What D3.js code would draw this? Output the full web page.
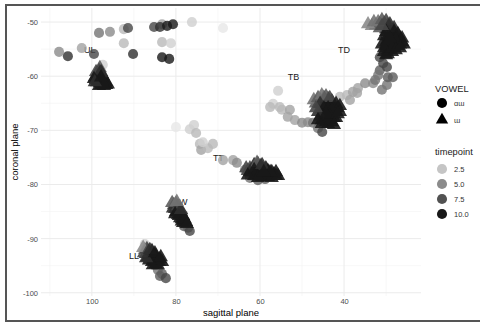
<!DOCTYPE html>
<html><head><meta charset="utf-8">
<script src="https://cdn.jsdelivr.net/npm/d3@7"></script>
<style>body{margin:0;background:#fff}svg{display:block}</style>
</head><body><svg id="c" width="480" height="323"></svg>
<script>
// vowel "ɑɯ" (circles)
const awSag=[107.8,105.7,102.4,99.5,98.3,95.7,92.4,91.4,92.4,90.2,85.2,83.3,83.8,82.1,80.7,83.3,81.2,83.3,81.6,76.2,68.8,97.4,
 78.3,77.8,78.1,77.1,76.7,
 87.4,85.0,84.3,83.8,83.3,82.4,
 80.0,76.7,75.7,75.2,74.3,74.0,72.4,71.2,73.6,68.8,66.4,65.5,63.6,62.4,60.5,58.8,
 55.7,56.9,57.6,54.8,55.3,52.9,53.4,51.7,50.0,48.6,47.4,46.2,45.2,
 41.0,39.3,37.9,36.7,35.0,38.6,36.9,33.1,32.6,31.0,29.8,29.6,31.5,30.7,31.5,29.8,28.4,31.9];
const awCor=[-55.5,-56.3,-54.8,-55.9,-52.0,-51.8,-51.3,-51.1,-53.9,-55.9,-50.9,-50.4,-50.9,-50.7,-50.4,-53.7,-53.9,-56.5,-56.8,-50.0,-51.1,-57.9,
 -85.6,-86.9,-87.7,-88.0,-88.6,
 -91.0,-94.9,-95.8,-96.9,-96.5,-97.3,
 -69.4,-69.8,-69.0,-70.5,-72.5,-73.6,-73.3,-72.5,-72.2,-75.5,-75.5,-76.0,-77.3,-78.8,-79.2,-79.0,
 -62.7,-65.1,-65.7,-66.2,-65.7,-66.2,-67.5,-68.1,-68.6,-68.5,-68.6,-69.6,-70.3,
 -63.8,-63.5,-62.9,-62.2,-61.3,-64.4,-63.1,-61.3,-60.7,-62.5,-61.6,-60.2,-58.9,-57.6,-56.5,-58.3,-60.2,-59.8];
const awTime=[5,9,4,8,6,5,3,8,3,9,8,4,9,10,10,3,2,10,10,2,1,2,
 5,6,7,7,8,
 2,5,6,7,7,8,
 1,2,2,3,3,4,3,3,2,4,4,5,5,6,7,7,
 2,2,3,3,3,4,4,4,5,5,6,6,8,
 3,3,4,4,5,4,4,5,6,6,6,7,7,8,8,8,7,6];

// vowel "ɯ" (triangles)
const uSag=[98.1,98.3,97.8,98.8,98.1,97.4,99.3,98.6,97.8,97.1,99.0,98.3,97.6,96.6,98.1,97.4,96.9,97.8,98.6,97.6,
 99.0,98.1,99.5,98.8,98.1,97.4,96.6,96.2,98.3,97.1,99.3,97.8,
 80.5,80.0,80.7,79.8,79.3,80.0,78.8,78.3,79.0,78.1,77.6,78.3,79.5,80.2,78.6,
 80.9,79.5,80.2,79.3,78.6,77.9,77.4,78.8,79.8,
 87.4,86.9,86.4,87.1,85.9,85.5,86.2,85.0,84.5,85.2,84.0,85.7,86.7,84.8,86.2,87.6,
 87.8,86.7,85.7,84.8,83.8,83.3,84.3,85.5,86.4,87.1,86.2,85.0,83.6,
 62.4,61.4,60.5,61.0,60.0,59.1,58.1,57.2,59.5,58.6,57.6,56.7,60.5,61.9,62.9,56.2,59.1,60.7,59.8,
 63.3,62.4,61.4,61.0,59.5,58.1,57.2,56.2,55.7,58.6,59.5,57.6,61.4,62.9,60.5,59.1,
 46.7,45.7,44.8,43.8,42.9,44.3,43.4,42.4,45.3,46.2,44.8,43.8,42.9,41.9,41.5,44.3,43.4,45.3,43.8,42.4,45.7,
 47.2,46.2,45.3,44.3,43.4,41.9,41.0,41.0,41.9,42.9,44.3,45.3,46.2,45.7,44.8,43.8,42.9,46.7,43.4,44.3,41.5,42.4,
 33.4,32.4,31.5,30.5,29.6,30.0,29.1,28.6,27.7,26.7,26.2,29.6,28.6,27.7,30.0,29.1,28.1,29.6,30.5,28.6,30.0,27.2,31.5,28.1,
 34.3,32.9,31.9,31.0,30.0,29.1,28.1,27.2,26.2,25.8,26.7,27.7,28.6,30.0,30.5,29.6,28.6,31.0,29.6,30.5,29.1,27.7,30.0,31.0,26.7];
const uCor=[-58.5,-59.0,-59.2,-59.6,-59.8,-60.0,-60.2,-60.3,-60.5,-60.7,-60.7,-60.9,-61.1,-61.1,-61.3,-61.5,-61.5,-61.6,-60.0,-59.6,
 -59.2,-59.4,-60.5,-61.1,-60.7,-60.9,-61.6,-61.5,-61.8,-61.8,-61.1,-60.2,
 -83.8,-83.6,-84.4,-84.4,-84.9,-85.1,-85.5,-85.8,-86.2,-86.6,-86.9,-87.1,-85.6,-84.5,-86.4,
 -83.4,-84.0,-85.5,-85.8,-86.8,-86.4,-87.3,-84.7,-83.2,
 -92.1,-91.9,-92.5,-92.8,-92.8,-93.2,-93.6,-93.6,-94.0,-94.1,-94.3,-94.3,-93.4,-94.7,-93.0,-92.7,
 -91.7,-92.3,-92.3,-93.2,-93.8,-94.3,-94.9,-94.9,-94.0,-93.6,-92.1,-92.7,-93.4,
 -77.0,-76.4,-76.2,-77.0,-77.2,-77.3,-77.5,-77.7,-77.9,-78.1,-78.3,-78.1,-77.7,-77.7,-77.5,-78.4,-78.4,-76.0,-76.6,
 -77.0,-77.7,-77.3,-78.3,-78.6,-78.6,-78.8,-77.7,-78.4,-77.0,-76.4,-77.7,-78.4,-78.3,-78.8,-77.7,
 -65.0,-64.4,-64.0,-64.2,-64.6,-65.1,-65.5,-65.9,-65.9,-66.6,-66.8,-66.6,-67.0,-66.6,-65.9,-67.7,-68.1,-68.1,-68.8,-67.7,-67.4,
 -64.4,-64.0,-63.5,-63.7,-64.0,-65.1,-65.5,-66.6,-67.7,-68.5,-68.5,-68.8,-68.1,-65.1,-65.9,-65.9,-66.3,-65.9,-67.4,-67.0,-67.0,-69.0,
 -50.7,-50.6,-50.4,-50.2,-50.6,-51.3,-51.5,-52.2,-52.6,-53.0,-53.7,-52.6,-53.3,-54.1,-53.7,-54.4,-54.8,-55.2,-54.8,-55.5,-56.1,-54.4,-51.1,-51.1,
 -50.4,-50.0,-50.0,-49.6,-49.8,-50.4,-51.8,-52.2,-53.0,-54.1,-54.1,-53.3,-54.1,-54.4,-55.5,-55.9,-54.8,-54.1,-53.3,-52.6,-53.0,-55.2,-51.8,-50.7,-54.8];
const uTime=[7,8,9,9,10,10,8,9,10,10,9,10,10,10,10,10,10,10,9,9,
 8,9,10,10,10,10,10,10,10,10,9,10,
 7,8,9,9,10,10,10,10,10,10,10,10,9,9,10,
 7,8,10,10,10,10,10,9,6,
 5,8,9,9,10,10,10,10,10,10,10,10,10,10,10,8,
 5,8,10,10,10,10,10,10,10,9,9,10,10,
 8,9,9,10,10,10,10,10,10,10,10,10,10,9,8,10,10,7,9,
 8,9,10,10,10,10,10,10,10,10,9,10,10,10,10,10,
 7,8,9,9,10,10,10,10,9,9,10,10,10,10,10,10,10,10,10,10,9,
 6,7,6,7,8,10,10,10,10,10,10,10,10,9,10,10,10,8,10,10,10,10,
 5,6,7,8,8,9,9,10,10,10,10,10,10,10,10,10,10,10,10,10,10,10,7,9,
 5,6,6,7,8,9,10,10,10,10,10,10,10,10,10,10,10,10,10,10,10,10,10,8,10];

const labelText=["UL","LL","JW","TT","TB","TD"];
const labelSag=[100.5,90.0,78.8,69.9,52.0,40.0];
const labelCor=[-55.2,-93.2,-83.2,-75.1,-60.2,-55.2];

const xTicks=[100,80,60,40];
const yTicks=[-50,-60,-70,-80,-90,-100];
const xMinor=[110,90,70,50,30];
const yMinor=[-55,-65,-75,-85,-95];
const vowelNames=["ɑɯ","ɯ"];
const timeBreaks=[2.5,5,7.5,10];

const FONT='"Liberation Sans", Arial, sans-serif';
const svg=d3.select("#c");
const L=41,R=421,T=8,B=296;
const x=d3.scaleLinear().domain([112.1,21.7]).range([L,R]);
const y=d3.scaleLinear().domain([-100.6,-47.4]).range([B,T]);
const color=d3.scaleLinear().domain([1,10.5]).range(["#e7e7e7","#0d0d0d"]);
const sym={ "ɑɯ":d3.symbol().type(d3.symbolCircle).size(80)(),
            "ɯ":d3.symbol().type(d3.symbolTriangle).size(88)() };

svg.append("rect").attr("x",0).attr("y",0).attr("width",480).attr("height",323).attr("fill","#fff");

// grid
const g=svg.append("g");
g.selectAll(".vmin").data(xMinor).join("line").attr("x1",d=>x(d)).attr("x2",d=>x(d)).attr("y1",T).attr("y2",B).attr("stroke","#f2f2f2").attr("stroke-width",0.6);
g.selectAll(".hmin").data(yMinor).join("line").attr("y1",d=>y(d)).attr("y2",d=>y(d)).attr("x1",L).attr("x2",R).attr("stroke","#f2f2f2").attr("stroke-width",0.6);
g.selectAll(".vmaj").data(xTicks).join("line").attr("x1",d=>x(d)).attr("x2",d=>x(d)).attr("y1",T).attr("y2",B).attr("stroke","#ebebeb").attr("stroke-width",1);
g.selectAll(".hmaj").data(yTicks).join("line").attr("y1",d=>y(d)).attr("y2",d=>y(d)).attr("x1",L).attr("x2",R).attr("stroke","#ebebeb").attr("stroke-width",1);

// axes
const xa=svg.append("g").attr("transform",`translate(0,${B})`).call(d3.axisBottom(x).tickValues(xTicks).tickSize(0).tickPadding(3).tickFormat(d3.format("d")));
const ya=svg.append("g").attr("transform",`translate(${L},0)`).call(d3.axisLeft(y).tickValues(yTicks).tickSize(0).tickPadding(3).tickFormat(d=>String(d)));
[xa,ya].forEach(a=>{a.select(".domain").remove();a.selectAll("text").attr("fill","#4d4d4d").style("font-family",FONT).style("font-size","7.5px");});

svg.append("text").attr("x",(L+R)/2).attr("y",316).attr("text-anchor","middle").style("font-family",FONT).style("font-size","9.5px").attr("fill","#000").text("sagittal plane");
svg.append("text").attr("transform",`translate(18,${(T+B)/2}) rotate(-90)`).attr("text-anchor","middle").style("font-family",FONT).style("font-size","9.5px").attr("fill","#000").text("coronal plane");

// annotation labels (under points)
svg.append("g").selectAll("text").data(labelText).join("text")
 .attr("x",(d,i)=>x(labelSag[i])).attr("y",(d,i)=>y(labelCor[i])).attr("dy","0.35em")
 .attr("text-anchor","middle").style("font-family",FONT).style("font-size","9px").attr("fill","#1a1a1a").text(d=>d);

// points
const aw=awSag.map((s,i)=>({s,c:awCor[i],t:awTime[i],v:"ɑɯ"}));
const uu=uSag.map((s,i)=>({s,c:uCor[i],t:uTime[i],v:"ɯ"}));
const pts=svg.append("g");
pts.selectAll(".a").data(aw).join("path").attr("d",d=>sym[d.v]).attr("transform",d=>`translate(${x(d.s)},${y(d.c)})`).attr("fill",d=>color(d.t)).attr("fill-opacity",0.8);
pts.selectAll(".u").data(uu).join("path").attr("d",d=>sym[d.v]).attr("transform",d=>`translate(${x(d.s)},${y(d.c)})`).attr("fill",d=>color(d.t)).attr("fill-opacity",0.9);

// legend
const lg=svg.append("g");
lg.append("text").attr("x",435).attr("y",92).style("font-family",FONT).style("font-size","9.3px").attr("fill","#1a1a1a").text("VOWEL");
vowelNames.forEach((v,i)=>{
  const cy=103+i*17;
  lg.append("path").attr("d",v==="ɯ"?d3.symbol().type(d3.symbolTriangle).size(66)():sym[v]).attr("transform",`translate(442,${cy})`).attr("fill","#000");
  lg.append("text").attr("x",454).attr("y",cy).attr("dy","0.35em").style("font-family",FONT).style("font-size","7.5px").attr("fill","#333").text(v);
});
lg.append("text").attr("x",435).attr("y",155).style("font-family",FONT).style("font-size","9.3px").attr("fill","#1a1a1a").text("timepoint");
timeBreaks.forEach((t,i)=>{
  const cy=169+i*15;
  lg.append("path").attr("d",sym["ɑɯ"]).attr("transform",`translate(442,${cy})`).attr("fill",color(t));
  lg.append("text").attr("x",454).attr("y",cy).attr("dy","0.35em").style("font-family",FONT).style("font-size","7.5px").attr("fill","#333").text(d3.format(".1f")(t));
});

// frame
svg.append("rect").attr("x",6).attr("y",5).attr("width",480).attr("height",316).attr("fill","none").attr("stroke","#555").attr("stroke-width",2);
</script></body></html>
